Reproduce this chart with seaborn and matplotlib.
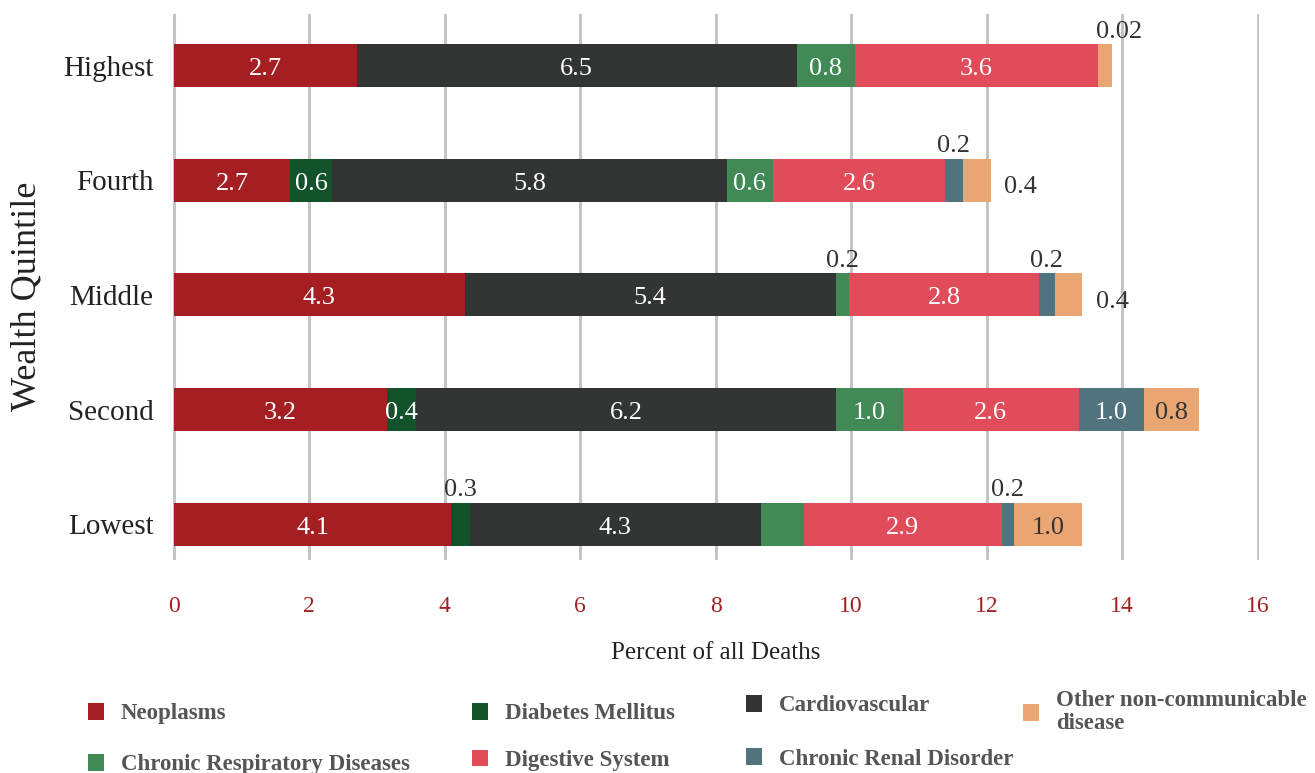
import numpy as np
import pandas as pd
import matplotlib
matplotlib.use("Agg")
import matplotlib.pyplot as plt
import seaborn as sns
from matplotlib.patches import Patch

# Data
quintiles = ["Highest", "Fourth", "Middle", "Second", "Lowest"]
causes = ["Neoplasms", "Diabetes Mellitus", "Cardiovascular", "Chronic Respiratory Diseases",
          "Digestive System", "Chronic Renal Disorder", "Other non-communicable disease"]
neoplasms = [2.7, 1.72, 4.3, 3.15, 4.1]
diabetes = [0.0, 0.62, 0.0, 0.43, 0.27]
cardio = [6.5, 5.82, 5.47, 6.19, 4.3]
respiratory = [0.85, 0.69, 0.2, 0.99, 0.63]
digestive = [3.6, 2.53, 2.8, 2.6, 2.92]
renal = [0.0, 0.27, 0.24, 0.97, 0.19]
other = [0.2, 0.41, 0.4, 0.8, 1.0]

# printed labels (None = no label)
labels = {
    "Neoplasms": ["2.7", "2.7", "4.3", "3.2", "4.1"],
    "Diabetes Mellitus": [None, "0.6", None, "0.4", "0.3"],
    "Cardiovascular": ["6.5", "5.8", "5.4", "6.2", "4.3"],
    "Chronic Respiratory Diseases": ["0.8", "0.6", "0.2", "1.0", None],
    "Digestive System": ["3.6", "2.6", "2.8", "2.6", "2.9"],
    "Chronic Renal Disorder": [None, "0.2", "0.2", "1.0", "0.2"],
    "Other non-communicable disease": ["0.02", "0.4", "0.4", "0.8", "1.0"],
}
# where the small labels sit: inside, above or to the right of the segment
placement = {
    "Diabetes Mellitus": [None, "in", None, "in", "up"],
    "Chronic Respiratory Diseases": ["in", "in", "up", "in", None],
    "Chronic Renal Disorder": [None, "up", "up", "in", "up"],
    "Other non-communicable disease": ["up", "right", "right", "in", "in"],
}
colors = ["#a51e22", "#13532b", "#333434", "#418a55", "#e04c5a", "#51737e", "#e9a672"]

series = [neoplasms, diabetes, cardio, respiratory, digestive, renal, other]
df = pd.DataFrame(dict(zip(causes, series)), index=quintiles)
cum = df.cumsum(axis=1)
left = cum - df

sns.set_style("white")
plt.rcParams["font.family"] = ["Liberation Serif", "DejaVu Serif"]

fig = plt.figure(figsize=(13.15, 7.73), dpi=100)
ax = fig.add_axes([0.1316, 0.2756, 0.8258, 0.7064])

# stacked bars: draw cumulative totals from the outermost series inwards
for cause, col in reversed(list(zip(causes, colors))):
    sns.barplot(x=cum[cause].values, y=quintiles, orient="h", color=col,
                width=0.375, saturation=1, ax=ax, linewidth=0, order=quintiles)

dark = "#333333"
fs = 19
for i, q in enumerate(quintiles):
    for cause in causes:
        txt = labels[cause][i]
        if txt is None:
            continue
        w = df.loc[q, cause]
        mid = left.loc[q, cause] + w / 2
        pos = placement.get(cause, ["in"] * 5)[i]
        if pos == "in":
            c = dark if cause == "Other non-communicable disease" else "white"
            ax.text(mid, i + 0.03, txt, ha="center", va="center", color=c, fontsize=fs)
        elif pos == "up":
            x = cum.loc[q, cause] + 0.1 if cause == "Other non-communicable disease" else mid
            ax.text(x, i - 0.2, txt, ha="center", va="bottom", color=dark, fontsize=fs)
        else:
            ax.text(cum.loc[q, cause] + 0.2, i + 0.06, txt, ha="left", va="center",
                    color=dark, fontsize=fs)

ax.set_xlim(-0.01, 16.02)
ax.set_ylim(4.31, -0.45)
ax.set_xticks(range(0, 17, 2))
ax.grid(axis="x", color="#c4c4c4", linewidth=2.2)
ax.set_axisbelow(True)
for s in ax.spines.values():
    s.set_visible(False)
ax.tick_params(axis="x", length=0, pad=26, labelsize=17, labelcolor="#a51e22")
ax.tick_params(axis="y", length=0, pad=14, labelsize=21, labelcolor="#222222")
ax.set_xlabel("Percent of all Deaths", fontsize=18, color="#222222", labelpad=18)
ax.set_ylabel("Wealth Quintile", fontsize=26, color="#222222")
ax.yaxis.set_label_coords(-0.119, 0.482)

# legend: one block per column, placed like the reference
handles = [Patch(facecolor=c, edgecolor="none") for c in colors]
legend_cols = [
    ([0, 3], 88, 703, 1.28),
    ([1, 4], 472, 703, 1.1),
    ([2, 5], 746, 695, 1.4),
    ([6], 1023, 690, 1.0),
]
leg_names = causes[:-1] + ["Other non-communicable\ndisease"]
for idx, x0, y0, sp in legend_cols:
    leg = fig.legend([handles[k] for k in idx], [leg_names[k] for k in idx],
                     loc="upper left", bbox_to_anchor=(x0 / 1315, 1 - y0 / 773),
                     frameon=False, borderpad=0, borderaxespad=0,
                     handlelength=0.68, handleheight=0.75, handletextpad=0.75,
                     labelspacing=sp, prop={"weight": "bold", "size": 16.5})
    for t in leg.get_texts():
        t.set_color("#555555")
        t.set_linespacing(1.15)

fig.savefig("out.png", dpi=100)
